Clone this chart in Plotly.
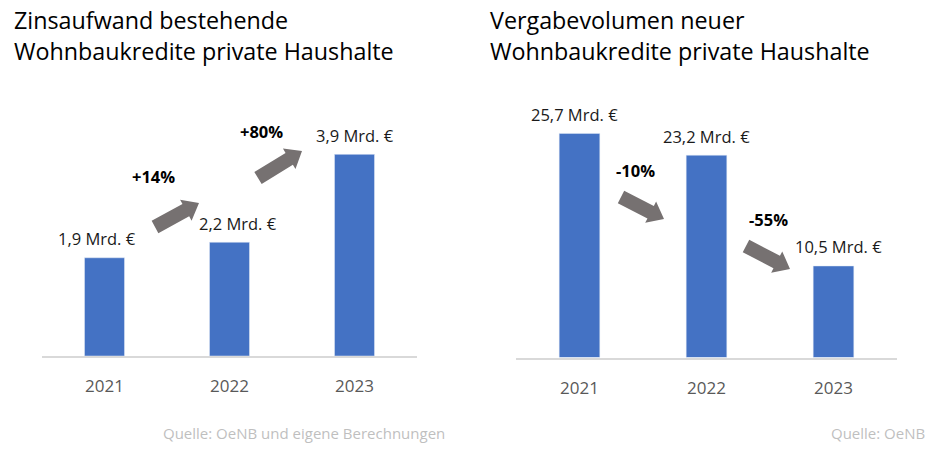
import math
import plotly.graph_objects as go

# ---- data ----
years = ["2021", "2022", "2023"]
zins_values = [1.9, 2.2, 3.9]
zins_labels = ["1,9 Mrd. €", "2,2 Mrd. €", "3,9 Mrd. €"]
zins_changes = ["+14%", "+80%"]

vergabe_values = [25.7, 23.2, 10.5]
vergabe_labels = ["25,7 Mrd. €", "23,2 Mrd. €", "10,5 Mrd. €"]
vergabe_changes = ["-10%", "-55%"]

title_left = ["Zinsaufwand bestehende", "Wohnbaukredite private Haushalte"]
title_right = ["Vergabevolumen neuer", "Wohnbaukredite private Haushalte"]
source_left = "Quelle: OeNB und eigene Berechnungen"
source_right = "Quelle: OeNB"

# ---- style ----
W, H = 936, 451
FONT = "Open Sans"
BAR = "#4472C4"
ARROW = "#767171"


def px(x, y):
    return x / W, 1 - y / H


fig = go.Figure()
fig.add_trace(go.Bar(x=years, y=zins_values, marker_color=BAR, xaxis="x", yaxis="y",
                     hoverinfo="skip", showlegend=False))
fig.add_trace(go.Bar(x=years, y=vergabe_values, marker_color=BAR, xaxis="x2", yaxis="y2",
                     hoverinfo="skip", showlegend=False))

xcommon = dict(type="category", range=[-0.5, 2.5], showline=True, linecolor="#D9D9D9",
               linewidth=1.5, showgrid=False, zeroline=False, ticks="",
               tickfont=dict(family=FONT, size=17, color="#595959"), ticklabelstandoff=14,
               fixedrange=True)
ycommon = dict(showgrid=False, zeroline=False, showticklabels=False, showline=False,
               fixedrange=True)

fig.update_layout(
    width=W, height=H, margin=dict(l=0, r=0, t=0, b=0),
    paper_bgcolor="white", plot_bgcolor="white",
    bargap=0.68,
    xaxis=dict(domain=[42 / W, 417 / W], anchor="y", **xcommon),
    xaxis2=dict(domain=[516 / W, 897 / W], anchor="y2", **xcommon),
    yaxis=dict(domain=[1 - 356 / H, 1 - 100 / H], range=[0, 256 / 51.7], anchor="x", **ycommon),
    yaxis2=dict(domain=[1 - 357.5 / H, 1 - 100 / H], range=[0, 257.5 / 8.72], anchor="x2", **ycommon),
)

ann = []
# titles
for lines, x0 in ((title_left, 12), (title_right, 488)):
    for i, t in enumerate(lines):
        xx, yy = px(x0, 20 + 31 * i)
        ann.append(dict(text=t, x=xx, y=yy, xref="paper", yref="paper", xanchor="left",
                        yanchor="middle", showarrow=False,
                        font=dict(family=FONT, size=23.3, color="#000000")))

# value labels
shifts_left = [-8, 8, 0]
shifts_right = [-5, 0, 5]
for xr, yr, vals, labs, shifts in (("x", "y", zins_values, zins_labels, shifts_left),
                                   ("x2", "y2", vergabe_values, vergabe_labels, shifts_right)):
    for idx, (v, lab, s) in enumerate(zip(vals, labs, shifts)):
        ann.append(dict(text=lab, x=idx, y=v, xref=xr, yref=yr, xanchor="center",
                        yanchor="middle", yshift=19, xshift=s, showarrow=False,
                        font=dict(family=FONT, size=16.5, color="#1A1A1A")))

# percentage change labels
pct_pos = [(153, 176), (261, 131), (635, 170), (768, 219)]
for t, (x, y) in zip(zins_changes + vergabe_changes, pct_pos):
    xx, yy = px(x, y)
    ann.append(dict(text="<b>" + t + "</b>", x=xx, y=yy, xref="paper", yref="paper",
                    xanchor="center", yanchor="middle", showarrow=False,
                    font=dict(family=FONT, size=16.5, color="#000000")))

# sources
for t, x, anchor in ((source_left, 447, "right"), (source_right, 927, "right")):
    xx, yy = px(x, 433)
    ann.append(dict(text=t, x=xx, y=yy, xref="paper", yref="paper", xanchor=anchor,
                    yanchor="middle", showarrow=False,
                    font=dict(family=FONT, size=15, color="#BFBFBF")))

fig.update_layout(annotations=ann)


# block arrows
def block_arrow(tail, tip, w=7, hw=12, hl=15):
    tx, ty = tail
    px_, py_ = tip
    L = math.hypot(px_ - tx, py_ - ty)
    ux, uy = (px_ - tx) / L, (py_ - ty) / L
    nx, ny = -uy, ux
    hx, hy = px_ - ux * hl, py_ - uy * hl
    pts = [(tx + nx * w, ty + ny * w), (hx + nx * w, hy + ny * w), (hx + nx * hw, hy + ny * hw),
           (px_, py_), (hx - nx * hw, hy - ny * hw), (hx - nx * w, hy - ny * w),
           (tx - nx * w, ty - ny * w)]
    conv = [px(x, y) for x, y in pts]
    return "M " + " L ".join(f"{a:.5f},{b:.5f}" for a, b in conv) + " Z"


arrows = [((155, 227), (199, 203)), ((258, 178), (302, 151)),
          ((621, 197), (664, 219)), ((746, 246), (790, 269))]
for tail, tip in arrows:
    fig.add_shape(type="path", path=block_arrow(tail, tip), xref="paper", yref="paper",
                  fillcolor=ARROW, line=dict(width=0))

fig.write_html("out.html", config={"displayModeBar": False},
               post_script="document.body.style.margin='0';document.body.style.overflow='hidden';")
